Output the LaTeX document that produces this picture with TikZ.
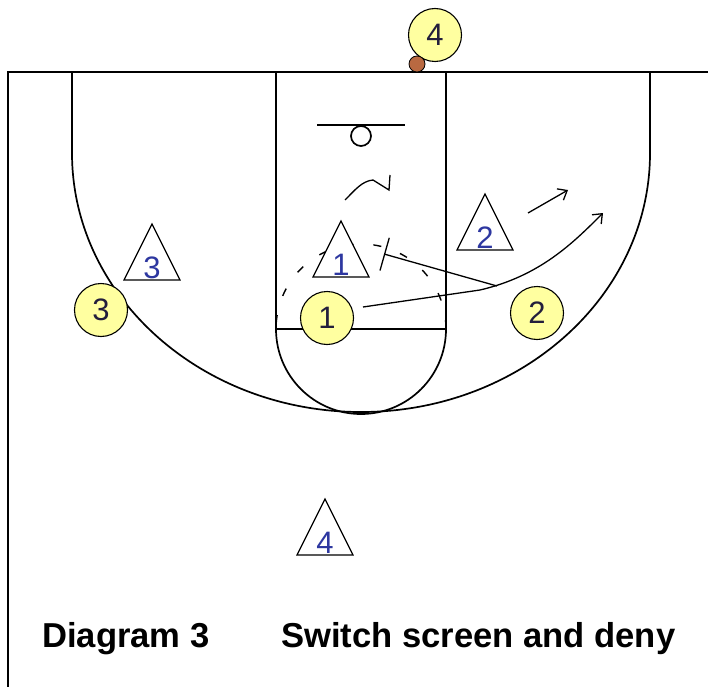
\documentclass[tikz,border=0pt]{standalone}
\usepackage{fontspec}
\setmainfont{Liberation Sans}
\usetikzlibrary{arrows.meta}
\definecolor{offfill}{RGB}{255,255,160}
\definecolor{offtext}{RGB}{35,30,60}
\definecolor{deftext}{RGB}{45,55,160}
\definecolor{ballbrown}{RGB}{185,105,65}
\newcommand\deftri[4]{%
  \draw[deftri] (#2,#3) -- (#2+28,#3+56) -- (#2-28,#3+56) -- cycle;
  \node[deflab] (#1) at (#2,#3+54) {#4};}
\begin{document}
\begin{tikzpicture}[x=1pt,y=-1pt,
  court/.style={line width=1.7pt, black},
  move/.style={line width=1.3pt, black},
  off/.style={circle, draw=black, line width=1.1pt, fill=offfill, minimum size=53pt, inner sep=0pt, font=\fontsize{31}{31}\selectfont, text=offtext},
  deftri/.style={draw=black, line width=1.2pt, fill=white},
  deflab/.style={font=\fontsize{31}{31}\selectfont, text=deftext, anchor=base, inner sep=0pt},
  tip/.style={-{Straight Barb[length=8pt,width=13pt,line width=1.3pt]}},
  title/.style={font=\bfseries\fontsize{34.6}{34.6}\selectfont, anchor=base west, inner sep=0pt}
]
\useasboundingbox (0,0) rectangle (708,687);
\fill[white] (0,0) rectangle (708,687);
% court
\draw[court] (708,72) -- (8,72) -- (8,687);
\draw[court] (72,72) -- (72,153) arc[start angle=180,end angle=360,x radius=289pt,y radius=259pt] -- (650,72);
\draw[court] (276,72) -- (276,329) -- (446,329) -- (446,72);
\draw[court] (276,329) arc[start angle=180,end angle=360,radius=85pt];
\draw[court, line width=1.4pt, dash pattern=on 8pt off 20pt, dash phase=-6pt] (276,329) arc[start angle=180,end angle=0,radius=85pt];
\draw[court] (317,125) -- (405,125);
\draw[court, fill=white] (361,136) circle[radius=10pt];
% defense
\deftri{x1}{341}{221}{1}
\deftri{x2}{485}{194}{2}
\deftri{x3}{152}{224}{3}
\deftri{x4}{325}{499}{4}
% movements
\coordinate (c1s) at (363,307);
\coordinate (c1e) at (603,213);
\draw[move, tip] (c1s) -- (480,290) .. controls (540,276) and (573,243) .. (c1e);
\coordinate (s1) at (384,254);
\coordinate (s2) at (497,286);
\draw[move, {Bar[width=34pt,line width=1.3pt]}-] (s1) -- (s2);
\coordinate (x1a) at (345,200);
\coordinate (x1b) at (389,190);
\draw[move] (x1a) .. controls (355,190) and (362,181) .. (373,180) -- (x1b) -- (390,175);
\coordinate (x2a) at (528,213);
\coordinate (x2b) at (568,190);
\draw[move, tip] (x2a) -- (x2b);
% offense
\node[off] (o1) at (327,318) {1};
\node[off] (o2) at (537,313) {2};
\node[off] (o3) at (101,310) {3};
\node[off] (o4) at (435,35) {4};
\node[circle, fill=ballbrown, draw=black, line width=0.8pt, minimum size=16pt, inner sep=0pt] (ball) at (417,64) {};
% captions
\node[title] (cap1) at (42,647) {Diagram 3};
\node[title] (cap2) at (281,647) {Switch screen and deny};
\end{tikzpicture}
\end{document}
